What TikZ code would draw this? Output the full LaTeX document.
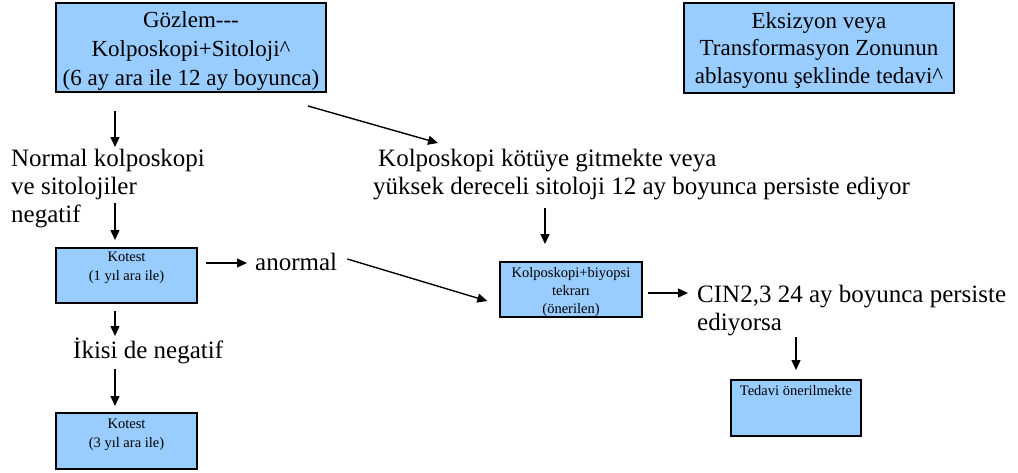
\documentclass[tikz,border=0pt]{standalone}
\usepackage{fontspec}
\setmainfont{Liberation Serif}
\usetikzlibrary{arrows.meta}
\definecolor{boxblue}{HTML}{99CCFF}
\tikzset{
  flowbox/.style={draw=black, fill=boxblue, line width=1.2pt, inner sep=0pt, outer sep=0pt, anchor=north west},
  freetext/.style={inner sep=0pt, anchor=base west, align=left, font=\fontsize{25}{28}\selectfont},
  arr/.style={line width=1.4pt, -{Triangle[length=10pt,width=9pt]}},
}
% box content: width, height, font size, line skip, top gap, text
\newcommand{\boxtext}[6]{\parbox[c][#2][t]{#1}{\centering\fontsize{#3}{#4}\selectfont\vspace*{#5}#6\par}}
\begin{document}
\begin{tikzpicture}[x=1pt,y=-1pt]
\useasboundingbox (0,0) rectangle (1018,472);

% boxes
\node[flowbox] (obs) at (56,3) {\boxtext{270pt}{89pt}{23}{29}{8.5pt}{Gözlem{-}{-}{-}\\Kolposkopi+Sitoloji\textasciicircum\\(6 ay ara ile 12 ay boyunca)}};
\node[flowbox] (exc) at (684,3) {\boxtext{270pt}{90pt}{23}{27.5}{9.5pt}{Eksizyon veya\\Transformasyon Zonunun\\ablasyonu şeklinde tedavi\textasciicircum}};
\node[flowbox] (kt1) at (56,248) {\boxtext{141pt}{55pt}{14.5}{19}{4.5pt}{Kotest\\(1 yıl ara ile)}};
\node[flowbox] (kt3) at (56,413) {\boxtext{141pt}{56pt}{14.5}{19}{5.5pt}{Kotest\\(3 yıl ara ile)}};
\node[flowbox] (biy) at (500,262) {\boxtext{142pt}{55pt}{14.5}{18}{5.5pt}{Kolposkopi+biyopsi\\tekrarı\\(önerilen)}};
\node[flowbox] (ted) at (731,380) {\boxtext{130pt}{56pt}{14.5}{18}{5.5pt}{Tedavi önerilmekte}};

% free texts (anchored at the baseline of their last line)
\node[freetext] (norm) at (11,222) {Normal kolposkopi\\ve sitolojiler\\negatif};
\node[freetext] (anor) at (255,270) {anormal};
\node[freetext] (iki) at (73,358) {İkisi de negatif};
\node[freetext] (kotu) at (373,194) {\hspace*{5pt}Kolposkopi kötüye gitmekte veya\\yüksek dereceli sitoloji 12 ay boyunca persiste ediyor};
\node[freetext] (cin) at (697,330) {CIN2,3 24 ay boyunca persiste\\ediyorsa};

% arrow columns
\coordinate (lcol) at (115,0);
\coordinate (mcol) at (545,0);
\coordinate (rcol) at (796,0);

% connectors
\draw[arr] (obs.south -| lcol) ++(0,19) -- ++(0,36);
\draw[arr] (kt1.north -| lcol) ++(0,-45) -- ++(0,37);
\draw[arr] (obs.south east) ++(-18,14) -- ++(130,37);
\draw[arr] (biy.north -| mcol) ++(0,-54) -- ++(0,36);
\draw[arr] (kt1.north east) ++(9,15) -- ++(41,0);
\draw[arr] (anor.base east) ++(10,-11) -- ++(140,42);
\draw[arr] (kt1.south -| lcol) ++(0,8) -- ++(0,25);
\draw[arr] (kt3.north -| lcol) ++(0,-44) -- ++(0,37);
\draw[arr] (biy.north east) ++(6,31) -- ++(40,0);
\draw[arr] (ted.north -| rcol) ++(0,-43) -- ++(0,33);
\end{tikzpicture}
\end{document}
